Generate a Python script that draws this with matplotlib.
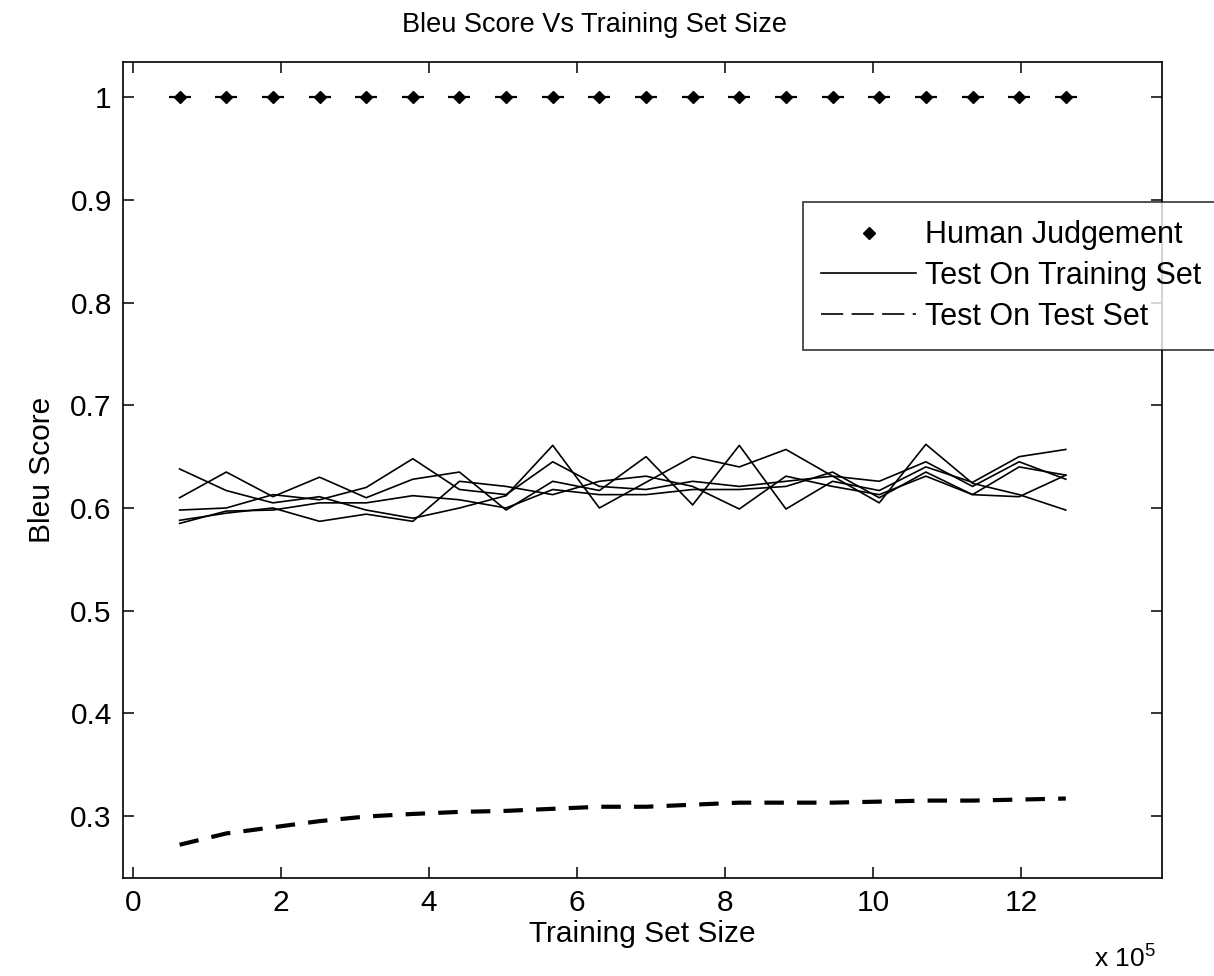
import numpy as np
import matplotlib
matplotlib.use("Agg")
import matplotlib.pyplot as plt
from matplotlib.lines import Line2D

plt.rcParams['font.family'] = ['Liberation Sans', 'DejaVu Sans']
plt.rcParams['lines.scale_dashes'] = False

# training set sizes (sentence pairs)
train_size = np.array([63000, 126000, 189000, 252000, 315000, 378000, 441000, 504000,
                       567000, 630000, 693000, 756000, 819000, 882000, 945000, 1008000,
                       1071000, 1134000, 1197000, 1260000])

human = [1.0] * 20

# five runs, tested on the training set
run1 = [0.638, 0.617, 0.605, 0.611, 0.598, 0.590, 0.600, 0.612, 0.661, 0.600,
        0.625, 0.650, 0.640, 0.657, 0.631, 0.605, 0.662, 0.624, 0.613, 0.598]
run2 = [0.610, 0.635, 0.611, 0.630, 0.610, 0.628, 0.635, 0.598, 0.626, 0.617,
        0.650, 0.603, 0.661, 0.599, 0.626, 0.617, 0.640, 0.625, 0.650, 0.657]
run3 = [0.598, 0.600, 0.613, 0.608, 0.620, 0.648, 0.618, 0.613, 0.645, 0.621,
        0.618, 0.626, 0.621, 0.626, 0.631, 0.626, 0.645, 0.621, 0.645, 0.628]
run4 = [0.588, 0.595, 0.600, 0.587, 0.594, 0.587, 0.626, 0.621, 0.613, 0.626,
        0.631, 0.621, 0.599, 0.631, 0.621, 0.613, 0.631, 0.613, 0.640, 0.632]
run5 = [0.585, 0.597, 0.598, 0.605, 0.605, 0.612, 0.608, 0.600, 0.618, 0.613,
        0.613, 0.618, 0.618, 0.621, 0.635, 0.610, 0.635, 0.613, 0.611, 0.632]

# tested on the held out test set
test_set = [0.272, 0.283, 0.289, 0.295, 0.2995, 0.302, 0.304, 0.305, 0.307, 0.309,
            0.309, 0.311, 0.313, 0.313, 0.313, 0.314, 0.315, 0.315, 0.316, 0.317]

x = train_size / 1e5

fig = plt.figure(figsize=(12.14, 9.76), dpi=100)
ax = fig.add_axes([0.1013, 0.1004, 0.8559, 0.8364])

# human judgement markers
ax.plot(x, human, ls='none', marker='_', ms=16, mew=1.6, color='k')
ax.plot(x, human, ls='none', marker='D', ms=6.5, color='k')

for run in [run1, run2, run3, run4, run5]:
    ax.plot(x, run, color='k', lw=1.2)

ax.plot(x, test_set, color='k', lw=3.0, dashes=(14, 9.5))

ax.set_xlim(-0.135, 13.9)
ax.set_ylim(0.2396, 1.0347)
ax.set_xticks([0, 2, 4, 6, 8, 10, 12])
ax.set_yticks([0.3, 0.4, 0.5, 0.6, 0.7, 0.8, 0.9, 1.0])
ax.set_yticklabels(['0.3', '0.4', '0.5', '0.6', '0.7', '0.8', '0.9', '1'])
ax.tick_params(direction='in', length=8, width=1.1, labelsize=21.5, pad=8,
               top=True, right=True)
for s in ax.spines.values():
    s.set_linewidth(1.2)

ax.set_ylabel('Bleu Score', fontsize=21.5, labelpad=10)
ax.set_xlabel('Training Set Size', fontsize=21.5, labelpad=2)
fig.text(595 / 1214, 1 - 25 / 976, 'Bleu Score Vs Training Set Size',
         fontsize=19.5, ha='center', va='center')
fig.text(1125 / 1214, 1 - 958 / 976, r'x 10$^{\mathregular{5}}$',
         fontsize=19, ha='center', va='center')

handles = [Line2D([], [], ls='none', marker='D', ms=6.5, color='k'),
           Line2D([], [], color='k', lw=1.2),
           Line2D([], [], color='k', lw=1.2, dashes=(16, 6))]
leg = ax.legend(handles, ['Human Judgement', 'Test On Training Set', 'Test On Test Set'],
                loc='upper left', bbox_to_anchor=(803 / 1214, 1 - 202 / 976),
                bbox_transform=fig.transFigure, fontsize=22, frameon=True,
                fancybox=False, handlelength=3.1, handletextpad=0.3,
                labelspacing=0.35, borderpad=0.6, borderaxespad=0)
leg.get_frame().set_edgecolor('k')
leg.get_frame().set_linewidth(1.2)

fig.savefig('out.png', dpi=100)
